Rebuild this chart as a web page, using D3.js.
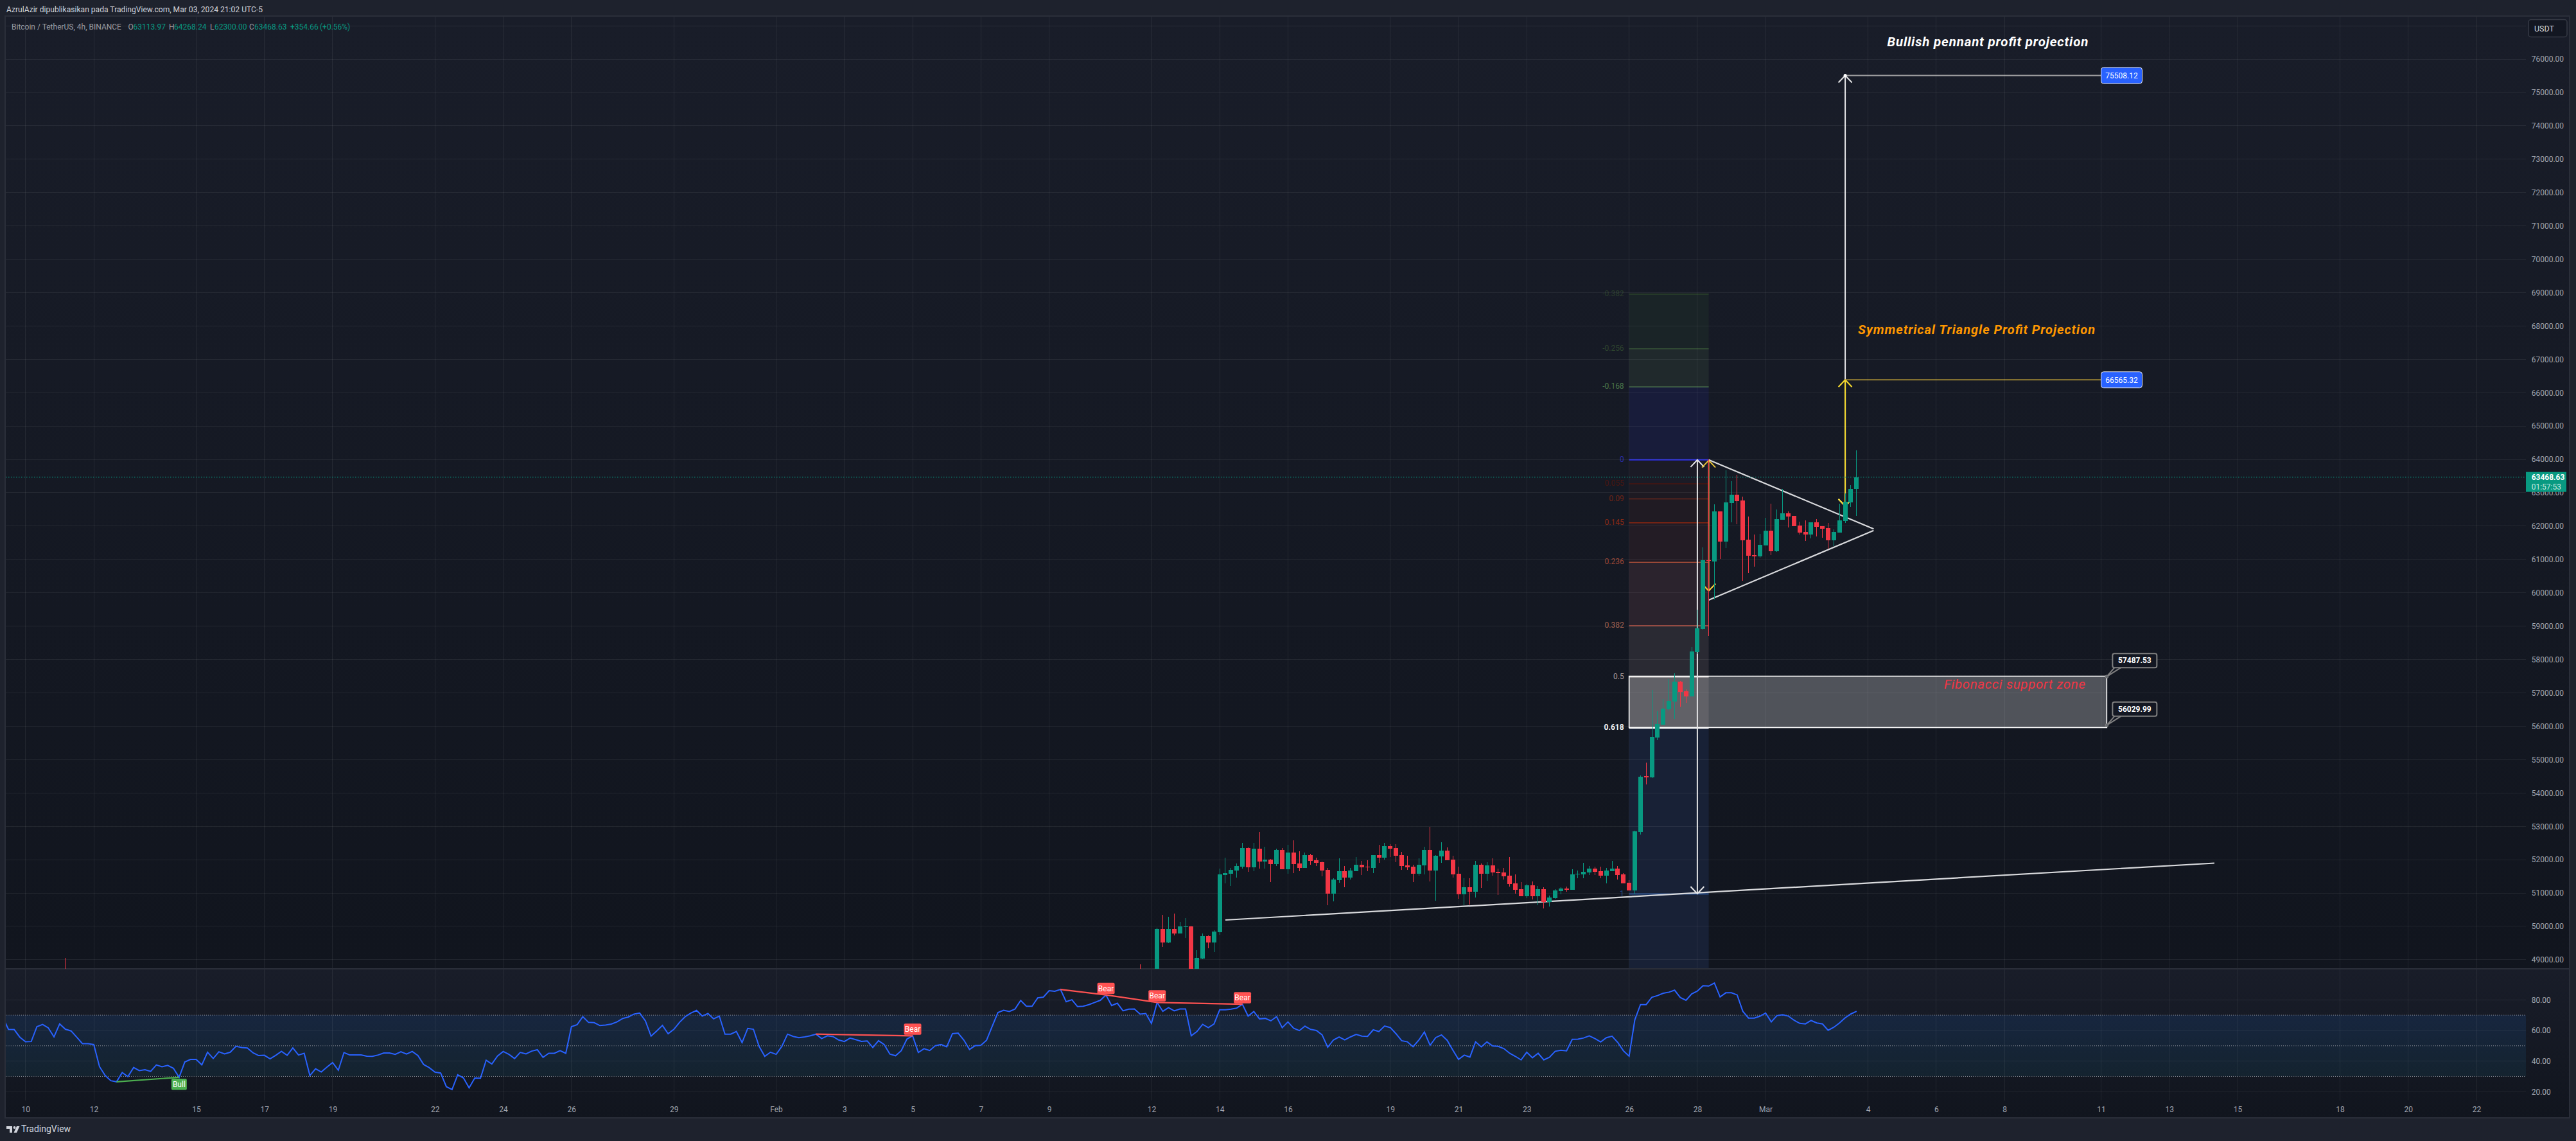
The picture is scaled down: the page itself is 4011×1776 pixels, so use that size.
<!DOCTYPE html>
<html>
<head>
<meta charset="utf-8">
<title>BTCUSDT 4h</title>
<script src="https://cdn.jsdelivr.net/npm/d3@7"></script>
<style>
  html, body { margin: 0; padding: 0; background: #1e222d; }
  svg { display: block; }
  text { font-family: Roboto, sans-serif; }
</style>
</head>
<body>
<div id="chart"></div>
<script>
// 4h candles, first row is Feb 11 16:00. rows are open, high, low, close
const candleStart = "2024-02-11T16:00:00Z";
const candleRows = [
  [48700,48853,48200,48400],[48400,48600,48100,48350],[48350,48650,48000,48250],[48250,49968,48200,49930],
  [49930,50353,49391,49526],[49526,50295,49500,49930],[49930,50391,49737,49795],[49795,50135,49790,50007],
  [49985,50250,49660,50007],[50000,50010,48200,48400],[48400,49295,48350,49064],[49045,49789,49019,49718],
  [49718,49737,49353,49526],[49526,49891,49237,49853],[49833,51737,49757,51564],[51545,52064,51295,51603],
  [51583,51756,51218,51699],[51680,51891,51468,51814],[51795,52506,51737,52353],[52353,52372,51641,51776],
  [51776,52506,51660,52333],[52333,52833,51737,51949],[51949,52391,51737,52006],[52006,52026,51333,51872],
  [51872,52333,51814,52295],[52295,52353,51718,51718],[51718,52449,51583,52218],[52218,52583,51603,51872],
  [51891,52256,51660,51756],[51756,52218,51750,52141],[52141,52180,51853,51968],[51987,52064,51814,51910],
  [51930,51935,51506,51680],[51699,51756,50641,50987],[50987,51449,50756,51410],[51391,52045,51314,51660],
  [51660,51814,51180,51468],[51468,51756,51410,51680],[51660,52083,51655,51853],[51853,51968,51545,51776],
  [51795,51987,51660,51776],[51756,52145,51603,52141],[52141,52449,51910,52064],[52064,52506,52006,52410],
  [52410,52468,52083,52333],[52353,52468,51930,52122],[52141,52237,51699,51814],[51833,52122,51699,51776],
  [51795,51853,51333,51583],[51583,52045,51526,51853],[51833,52391,51564,52295],[52295,52987,51353,51680],
  [51680,52141,50776,52122],[52103,52526,51910,52276],[52276,52372,51980,51987],[52006,52122,51468,51564],
  [51583,51795,50833,50968],[50968,51449,50641,51180],[51180,51449,50660,51045],[51045,51968,50872,51853],
  [51853,51891,51160,51583],[51583,51930,51372,51833],[51833,52045,51526,51622],[51641,51737,50949,51603],
  [51622,51756,51410,51506],[51526,52083,51199,51276],[51295,51564,50987,51103],[51122,51333,50905,50910],
  [50910,51276,50853,51237],[51237,51353,50814,50910],[50910,51218,50641,51122],[51122,51180,50545,50737],
  [50737,50930,50603,50872],[50853,51122,50833,51083],[51065,51180,50968,51141],[51141,51199,51045,51103],
  [51103,51718,51100,51564],[51564,51680,51449,51583],[51564,51910,51449,51641],[51622,51814,51545,51737],
  [51737,51795,51545,51641],[51660,51795,51449,51526],[51526,51756,51295,51680],[51660,51968,51655,51737],
  [51737,51814,51410,51545],[51564,51603,51290,51295],[51314,51391,51080,51083],[51076,52860,50967,52848],
  [52830,54530,52752,54485],[54500,54909,54254,54470],[54470,57085,54445,55679],[55660,56450,55583,56065],
  [56045,56816,56020,56527],[56507,57413,56469,56758],[56739,57586,56212,57336],[57336,57355,56585,57028],
  [57047,57098,56700,56893],[56893,58376,56890,58241],[58222,59493,58164,58934],[58915,61361,58900,60976],
  [60985,64000,58703,60960],[60938,62652,59801,62440],[62440,62445,61015,61535],[61535,63673,61342,62710],
  [62690,63345,62113,62941],[62941,63538,62055,62748],[62767,62883,60360,61573],[61592,62286,60591,61111],
  [61130,61747,60784,61092],[61092,61766,61053,61438],[61420,62247,61415,61862],[61862,62671,61130,61246],
  [61246,62498,61227,62209],[62190,63114,62185,62382],[62382,62440,61958,62286],[62305,62310,61990,61997],
  [62016,62132,61747,61804],[61823,62170,61554,61747],[61747,62120,61631,62113],[62113,62209,61689,61978],
  [61997,62000,61650,61920],[61940,62093,61323,61573],[61573,61901,61400,61824],[61804,62671,61800,62170],
  [62150,62979,62093,62729],[62710,63230,62575,63114],[63113.97,64268.24,62300,63468.63]
];
// lone wick poking into the pane far on the left
const earlyWickTime = "2024-01-11T04:00:00Z";
const earlyWickRow = [48500,49050,47800,47600];

// RSI values, one per 4h candle from Jan 9 08:00
const rsiStart = "2024-01-09T08:00:00Z";
const rsiValues = [
  68.3,60.7,60.6,55.6,52.6,52.8,62.5,63.9,61.7,55.8,64.3,60.8,59.7,55.6,51.4,51.4,50.8,36.4,30.6,27.2,
  26.5,32.5,29.9,35.8,33.8,34.4,33.3,37.5,36.3,37.2,35.3,29.4,39.4,41.1,41.1,37.5,45.8,41.7,46.1,44.7,
  45.8,49.7,48.9,48.6,45.4,43.6,43.8,41.5,43.8,46.4,43.8,48.6,44.0,45.1,30.6,35.0,32.9,36.1,39.0,34.0,
  45.6,44.0,44.0,44.0,43.2,43.1,44.0,45.3,45.3,44.4,46.1,44.6,46.3,43.6,37.8,35.7,32.8,32.2,23.3,21.4,
  31.1,29.0,22.5,28.9,28.8,40.6,38.1,43.3,46.3,44.4,41.7,45.7,44.7,46.5,47.4,42.4,45.1,45.1,46.8,45.1,
  62.5,63.8,69.0,65.3,65.1,63.2,63.6,64.2,65.6,67.8,68.8,70.7,71.4,66.3,56.3,59.7,63.3,57.9,60.7,65.3,
  69.0,71.4,73.1,69.4,71.1,67.6,69.4,57.6,57.6,59.3,52.1,61.3,60.8,49.6,43.1,45.8,44.4,49.6,57.6,56.1,
  55.3,55.8,56.5,57.6,54.7,56.5,56.0,
  53.8,52.8,55.0,54.0,52.9,53.2,48.9,53.3,50.8,44.6,43.5,46.8,54.4,56.5,45.6,48.1,46.9,50.1,50.8,49.3,
  57.9,58.3,53.8,47.6,50.1,50.3,53.6,62.8,71.7,73.2,72.4,74.0,79.6,75.8,75.8,81.3,81.8,86.0,85.6,86.8,
  78.8,80.1,75.6,75.8,76.9,78.3,79.7,83.2,76.3,77.8,72.8,73.9,74.0,70.7,71.1,64.6,78.3,72.5,74.9,72.8,
  74.0,74.0,56.5,59.3,64.0,61.8,64.2,73.5,73.5,73.9,74.6,77.1,69.4,72.4,67.6,67.9,66.3,69.0,61.8,65.6,
  61.5,59.9,62.8,60.7,60.0,57.2,49.0,53.8,55.7,53.8,55.8,57.4,56.3,56.1,60.4,59.3,62.9,61.9,57.9,53.3,
  52.6,49.4,53.6,59.0,50.3,55.4,57.1,53.6,47.2,41.1,43.9,42.6,52.6,49.3,52.5,49.9,49.6,48.1,45.1,43.1,
  40.8,45.8,42.2,45.1,40.8,42.5,46.4,47.1,46.7,54.2,54.3,55.1,56.5,54.7,52.5,55.3,56.3,52.2,46.7,43.2,
  66.9,76.9,76.9,81.7,82.8,84.3,85.0,
  86.3,81.5,79.7,83.9,85.7,89.2,89.0,91.0,81.9,84.6,84.6,83.2,72.5,68.1,68.1,69.3,71.4,65.6,69.7,70.3,
  69.4,66.7,64.7,64.3,66.5,64.9,64.3,60.1,62.1,64.9,68.3,70.8,72.5
];
// divergences as [from, to] index into rsiValues
const bullDivergences = [[20, 31]];
const bearDivergences = [[143, 160], [186, 194], [194, 203], [203, 218]];

const priceTicks = d3.range(49000, 77000, 1000);
const gridPrices = d3.range(49000, 78000, 1000);
const rsiTicks = [20, 40, 60, 80];
const rsiGuides = [30, 50, 70];
const timeTicks = ["2024-01-10","2024-01-12","2024-01-15","2024-01-17","2024-01-19","2024-01-22","2024-01-24","2024-01-26","2024-01-29","2024-02-01","2024-02-03","2024-02-05","2024-02-07","2024-02-09","2024-02-12","2024-02-14","2024-02-16","2024-02-19","2024-02-21","2024-02-23","2024-02-26","2024-02-28","2024-03-01","2024-03-04","2024-03-06","2024-03-08","2024-03-11","2024-03-13","2024-03-15","2024-03-18","2024-03-20","2024-03-22"];
const timeLabels = ["10","12","15","17","19","22","24","26","29","Feb","3","5","7","9","12","14","16","19","21","23","26","28","Mar","4","6","8","11","13","15","18","20","22"];

// fib retracement
const fibHigh = 63985;
const fibLow = 50970;
const fibLevels = [-0.382,-0.256,-0.168,0,0.055,0.09,0.145,0.236,0.382,0.5,0.618,1];
const fibLabels = ["-0.382","-0.256","-0.168","0","0.055","0.09","0.145","0.236","0.382","0.5","0.618","1"];
const fibFrom = "2024-02-26T00:00:00Z";
const fibTo = "2024-02-28T08:00:00Z";
const supportZone = [57500, 55960];
const zoneEnd = "2024-03-11T04:00:00Z";
const zonePrices = [57487.53, 56029.99];

const supportLine = [["2024-02-14T04:00:00Z", 50191], ["2024-03-14T07:42:00Z", 51896]];
const triangleTop = [["2024-02-28T08:00:00Z", 63985], ["2024-03-04T04:00:00Z", 61915]];
const triangleBottom = [["2024-02-28T08:00:00Z", 59783], ["2024-03-04T04:00:00Z", 61869]];

const arrowFlagTime = "2024-02-28T00:00:00Z";
const arrowFlagPrices = [63985, 50980];
const arrowPoleTime = "2024-02-28T08:00:00Z";
const arrowPolePrices = [63970, 60060];
const targetTime = "2024-03-03T08:00:00Z";
const targetEndTime = "2024-03-11T00:00:00Z";
const targetBreakout = 62600;
const targetBull = 75508.12;
const targetSym = 66565.32;
const targetSymDrawn = 66385;

const lastPrice = 63468.63;
const countdown = "01:57:53";

// colours
const UP = "#089981";
const DOWN = "#f23645";
const fibLineColors = ["#2f4a2c","#3a5a3a","#4f7a4f","#2b2ee0","#4a1610","#7a2a1a","#8a2510","#a04a38","#b8584a","#d8d2d2","#ffffff","#2a5fb0"];
const fibTextColors = ["#2a3d2c","#2e452f","#4c7a4c","#2a2ea8","#4a1610","#6d2416","#8a2a15","#9a4635","#a0604f","#a89c9c","#f0f0f0","#224a8c"];
const fibBandColors = ["#1a2427","#20292c","#181c3a","#1b1b26","#1e1a22","#201b23","#231c25","#2b232d","#2a2a33","#2a2a33","#182136"];

const W = 4011, H = 1776;
const paneLeft = 9, paneRight = 3933, frameRight = 4000;
const mainTop = 26, mainBottom = 1508, rsiBottom = 1713, frameBottom = 1740;

const x = d3.scaleUtc()
  .domain(["2024-01-10","2024-03-08","2024-03-11","2024-03-22"].map(d => new Date(d)))
  .range([39.8, 3121, 3271.5, 3856]);
const y = d3.scaleLinear().domain([49000, 76000]).range([1493.84, 92]);
const yRsi = d3.scaleLinear().domain([20, 80]).range([1699.3, 1556.3]);
const t = s => new Date(s);

const svg = d3.select("#chart").append("svg").attr("width", W).attr("height", H);
const defs = svg.append("defs");

function vGradient(id, top, bottom) {
  const g = defs.append("linearGradient").attr("id", id)
    .attr("x1", 0).attr("y1", 0).attr("x2", 0).attr("y2", 1);
  g.append("stop").attr("offset", "0%").attr("stop-color", top);
  g.append("stop").attr("offset", "100%").attr("stop-color", bottom);
}
vGradient("mainBg", "#191d29", "#11151e");
vGradient("rsiBg", "#191d29", "#11151e");
vGradient("rsiBand", "#17263f", "#14232f");

defs.append("clipPath").attr("id", "mainClip").append("rect")
  .attr("x", paneLeft).attr("y", mainTop).attr("width", paneRight - paneLeft).attr("height", mainBottom - mainTop);
defs.append("clipPath").attr("id", "rsiClip").append("rect")
  .attr("x", paneLeft).attr("y", mainBottom).attr("width", paneRight - paneLeft).attr("height", rsiBottom - mainBottom);

// page + panes
svg.append("rect").attr("width", W).attr("height", H).attr("fill", "#1e222d");
svg.append("rect").attr("x", paneLeft).attr("y", mainTop).attr("width", frameRight - paneLeft).attr("height", mainBottom - mainTop).attr("fill", "url(#mainBg)");
svg.append("rect").attr("x", paneLeft).attr("y", mainBottom).attr("width", frameRight - paneLeft).attr("height", frameBottom - mainBottom).attr("fill", "url(#rsiBg)");
svg.append("rect").attr("x", paneLeft).attr("width", paneRight - paneLeft)
  .attr("y", yRsi(70)).attr("height", yRsi(30) - yRsi(70))
  .attr("fill", "url(#rsiBand)");

// fib bands sit under the grid
const mainDraw = svg.append("g").attr("clip-path", "url(#mainClip)");
const fibPrice = l => fibHigh - l * (fibHigh - fibLow);
const fibX0 = x(t(fibFrom)), fibX1 = x(t(fibTo));
mainDraw.selectAll("rect.band").data(fibBandColors).enter().append("rect")
  .attr("class", "band")
  .attr("x", fibX0).attr("width", fibX1 - fibX0)
  .attr("y", (d, i) => y(fibPrice(fibLevels[i])))
  .attr("height", (d, i) => {
    // last band runs on below the pane
    const next = i === fibBandColors.length - 1 ? 48000 : fibPrice(fibLevels[i + 1]);
    return y(next) - y(fibPrice(fibLevels[i]));
  })
  .attr("fill", d => d);

// support zone box
const zoneX1 = x(t(zoneEnd));
mainDraw.append("rect").attr("class", "zone")
  .attr("x", fibX0).attr("y", y(supportZone[0]))
  .attr("width", zoneX1 - fibX0).attr("height", y(supportZone[1]) - y(supportZone[0]))
  .attr("fill", "#ffffff").attr("fill-opacity", 0.26);

// grid
const gridColor = "rgba(255,255,255,0.065)";
const grid = svg.append("g").attr("shape-rendering", "crispEdges").attr("stroke", gridColor);
grid.selectAll("line.h").data(gridPrices).enter().append("line").attr("class", "h")
  .attr("x1", paneLeft).attr("x2", paneRight).attr("y1", d => y(d)).attr("y2", d => y(d));
grid.selectAll("line.r").data(rsiTicks).enter().append("line").attr("class", "r")
  .attr("x1", paneLeft).attr("x2", paneRight).attr("y1", d => yRsi(d)).attr("y2", d => yRsi(d));
grid.selectAll("line.v").data(timeTicks).enter().append("line").attr("class", "v")
  .attr("x1", d => x(t(d))).attr("x2", d => x(t(d))).attr("y1", mainTop).attr("y2", rsiBottom);

// pane separator and frame
svg.append("line").attr("x1", paneLeft).attr("x2", frameRight).attr("y1", mainBottom).attr("y2", mainBottom)
  .attr("stroke", "#2a2e39").attr("stroke-width", 2);
svg.append("rect").attr("x", paneLeft - 1).attr("y", mainTop - 1).attr("width", frameRight - paneLeft + 2).attr("height", frameBottom - mainTop + 1)
  .attr("fill", "none").attr("stroke", "#2a2e39").attr("stroke-width", 2);

// fib lines and labels
mainDraw.selectAll("line.fib").data(fibLevels).enter().append("line")
  .attr("class", "fib")
  .attr("x1", fibX0).attr("x2", fibX1)
  .attr("y1", d => y(fibPrice(d))).attr("y2", d => y(fibPrice(d)))
  .attr("stroke", (d, i) => fibLineColors[i])
  .attr("stroke-width", d => (d === 0 ? 2 : 1.4));
mainDraw.selectAll("text.fib").data(fibLevels).enter().append("text")
  .attr("class", "fib")
  .attr("x", fibX0 - 8)
  .attr("y", d => y(fibPrice(d)) + 3)
  .attr("text-anchor", "end")
  .attr("font-size", 12)
  .attr("font-weight", d => (d === 0.618 ? 700 : 400))
  .attr("fill", (d, i) => fibTextColors[i])
  .text((d, i) => fibLabels[i]);

// zone border
mainDraw.append("rect")
  .attr("x", fibX0).attr("y", y(supportZone[0]))
  .attr("width", zoneX1 - fibX0).attr("height", y(supportZone[1]) - y(supportZone[0]))
  .attr("fill", "none").attr("stroke", "#ffffff").attr("stroke-width", 1.6);

// drawings go under the candles
const lineGen = d3.line().x(d => x(t(d[0]))).y(d => y(d[1]));
[supportLine, triangleTop, triangleBottom].forEach(pts => {
  mainDraw.append("path").attr("d", lineGen(pts))
    .attr("fill", "none").attr("stroke", "#d9dadd").attr("stroke-width", 2.2);
});

function arrowHead(px, py, dir, color) {
  mainDraw.append("path")
    .attr("d", d3.line()([[px - 10.5, py + dir * 11], [px, py], [px + 10.5, py + dir * 11]]))
    .attr("fill", "none").attr("stroke", color).attr("stroke-width", 2);
}
function vArrow(time, p0, p1, color, twoHeads) {
  const px = x(t(time));
  mainDraw.append("line").attr("x1", px).attr("x2", px).attr("y1", y(p0)).attr("y2", y(p1))
    .attr("stroke", color).attr("stroke-width", 2);
  arrowHead(px, y(p1), -1, color);
  if (twoHeads) arrowHead(px, y(p0), 1, color);
}
vArrow(arrowFlagTime, arrowFlagPrices[0], arrowFlagPrices[1], "#e4e4e6", true);
vArrow(arrowPoleTime, arrowPolePrices[0], arrowPolePrices[1], "#f2b84a", false);
arrowHead(x(t(arrowPoleTime)), y(arrowPolePrices[0]), 1, "#e8c63a");
arrowHead(x(t(arrowPoleTime)), y(arrowPolePrices[1]), -1, "#e8c63a");

// projections
const targetX = x(t(targetTime)), targetEndX = x(t(targetEndTime));
mainDraw.append("line").attr("x1", targetX).attr("x2", targetX).attr("y1", y(targetBull)).attr("y2", y(targetBreakout))
  .attr("stroke", "#e4e4e6").attr("stroke-width", 2);
arrowHead(targetX, y(targetBull), 1, "#e4e4e6");
arrowHead(targetX, y(targetBreakout), -1, "#e4e4e6");
mainDraw.append("line").attr("x1", targetX).attr("x2", targetEndX).attr("y1", y(targetBull)).attr("y2", y(targetBull))
  .attr("stroke", "#9a9a9c").attr("stroke-width", 2);
mainDraw.append("circle").attr("cx", targetX).attr("cy", y(targetBull)).attr("r", 2.5).attr("fill", "#ffffff");
mainDraw.append("line").attr("x1", targetX).attr("x2", targetX).attr("y1", y(targetSymDrawn)).attr("y2", y(targetBreakout))
  .attr("stroke", "#f5d92e").attr("stroke-width", 2);
arrowHead(targetX, y(targetSymDrawn), 1, "#f5d92e");
arrowHead(targetX, y(targetBreakout), -1, "#f5d92e");
mainDraw.append("line").attr("x1", targetX).attr("x2", targetEndX).attr("y1", y(targetSymDrawn)).attr("y2", y(targetSymDrawn))
  .attr("stroke", "#c9a93a").attr("stroke-width", 1.5);

// price line
svg.append("line").attr("x1", paneLeft).attr("x2", paneRight).attr("y1", y(lastPrice)).attr("y2", y(lastPrice))
  .attr("stroke", UP).attr("stroke-width", 1.2).attr("stroke-dasharray", "1.5 2.5");

// candles
const candles = candleRows.map((r, i) => ({
  time: d3.utcHour.offset(t(candleStart), i * 4), open: r[0], high: r[1], low: r[2], close: r[3]
}));
candles.push({ time: t(earlyWickTime), open: earlyWickRow[0], high: earlyWickRow[1], low: earlyWickRow[2], close: earlyWickRow[3] });
const candleG = svg.append("g").attr("clip-path", "url(#mainClip)").attr("shape-rendering", "crispEdges");
const candleColor = d => (d.close >= d.open ? UP : DOWN);
candleG.selectAll("line").data(candles).enter().append("line")
  .attr("x1", d => x(d.time)).attr("x2", d => x(d.time))
  .attr("y1", d => y(d.high)).attr("y2", d => y(d.low))
  .attr("stroke", candleColor);
candleG.selectAll("rect").data(candles).enter().append("rect")
  .attr("x", d => x(d.time) - 3.5).attr("width", 7)
  .attr("y", d => y(Math.max(d.open, d.close)))
  .attr("height", d => Math.max(1, Math.abs(y(d.open) - y(d.close))))
  .attr("fill", candleColor);

// RSI pane
const rsiDraw = svg.append("g").attr("clip-path", "url(#rsiClip)");
rsiDraw.selectAll("line.guide").data(rsiGuides).enter().append("line").attr("class", "guide")
  .attr("x1", paneLeft).attr("x2", paneRight).attr("y1", d => yRsi(d)).attr("y2", d => yRsi(d))
  .attr("stroke", "#8f929b").attr("stroke-dasharray", "1 2");
const rsiTime = i => d3.utcHour.offset(t(rsiStart), i * 4);
rsiDraw.append("path")
  .attr("d", d3.line().x((d, i) => x(rsiTime(i))).y(d => yRsi(d))(rsiValues))
  .attr("fill", "none").attr("stroke", "#2962ff").attr("stroke-width", 2);

function divergence(pairs, color, label, above) {
  pairs.forEach(p => {
    rsiDraw.append("line")
      .attr("x1", x(rsiTime(p[0]))).attr("y1", yRsi(rsiValues[p[0]]))
      .attr("x2", x(rsiTime(p[1]))).attr("y2", yRsi(rsiValues[p[1]]))
      .attr("stroke", color).attr("stroke-width", 2.2);
  });
  pairs.forEach(p => {
    const px = x(rsiTime(p[1])), py = yRsi(rsiValues[p[1]]);
    const top = above ? py - 19 : py + 2;
    const w = label === "Bull" ? 24 : 27;
    rsiDraw.append("rect").attr("x", px - w / 2).attr("y", top).attr("width", w).attr("height", 17.5)
      .attr("rx", 2).attr("fill", color);
    rsiDraw.append("text").attr("x", px).attr("y", top + 13).attr("text-anchor", "middle")
      .attr("font-size", 12).attr("fill", "#ffffff").text(label);
  });
}
divergence(bullDivergences, "#4caf50", "Bull", false);
divergence(bearDivergences, "#ff5252", "Bear", true);

// axes
const priceAxis = svg.append("g").attr("transform", `translate(${paneRight},0)`)
  .call(d3.axisRight(y).tickValues(priceTicks).tickSize(0).tickPadding(8.7).tickFormat(d3.format(".2f")));
const rsiAxis = svg.append("g").attr("transform", `translate(${paneRight},0)`)
  .call(d3.axisRight(yRsi).tickValues(rsiTicks).tickSize(0).tickPadding(8.7).tickFormat(d3.format(".2f")));
const timeAxis = svg.append("g").attr("transform", `translate(0,${rsiBottom})`)
  .call(d3.axisBottom(x).tickValues(timeTicks.map(t)).tickSize(0).tickPadding(9)
    .tickFormat((d, i) => timeLabels[i]));
[priceAxis, rsiAxis, timeAxis].forEach(a => {
  a.select(".domain").remove();
  a.attr("font-family", "Roboto, sans-serif").attr("font-size", 12);
  a.selectAll("text").attr("fill", "#a3a6af");
});

// USDT box
svg.append("rect").attr("x", 3937).attr("y", 30.5).attr("width", 60).attr("height", 27).attr("rx", 4)
  .attr("fill", "#131722").attr("stroke", "#363a45").attr("stroke-width", 1.5);
svg.append("text").attr("x", 3946).attr("y", 49).attr("font-size", 12.5).attr("fill", "#d1d4dc").text("USDT");

// last price tag
svg.append("rect").attr("x", paneRight).attr("y", y(lastPrice) - 8).attr("width", 63).attr("height", 31).attr("fill", UP);
svg.append("text").attr("x", 3941.7).attr("y", y(lastPrice) + 4.5).attr("font-size", 12).attr("font-weight", 700).attr("fill", "#ffffff").text(d3.format(".2f")(lastPrice));
svg.append("text").attr("x", 3941.7).attr("y", y(lastPrice) + 19).attr("font-size", 12).attr("fill", "#c4e9e1").text(countdown);

// blue target tags
function blueTag(price, drawnPrice) {
  const px = targetEndX, py = y(drawnPrice);
  svg.append("rect").attr("x", px).attr("y", py - 12.5).attr("width", 64).attr("height", 25).attr("rx", 4)
    .attr("fill", "#2962ff").attr("stroke", "#e8e8ee").attr("stroke-width", 1);
  svg.append("text").attr("x", px + 32).attr("y", py + 4.5).attr("text-anchor", "middle")
    .attr("font-size", 12).attr("fill", "#ffffff").text(d3.format(".2f")(price));
}
blueTag(targetBull, targetBull);
blueTag(targetSym, targetSymDrawn);

// callouts on the support zone
zonePrices.forEach(p => {
  const ax = zoneX1, ay = y(p);
  const bx = ax + 9, by = ay - 36;
  svg.append("path")
    .attr("d", `M${bx + 3},${by + 22} L${ax},${ay} L${bx + 13},${by + 22}`)
    .attr("fill", "#131722").attr("stroke", "#808080").attr("stroke-width", 2);
  svg.append("rect").attr("x", bx).attr("y", by).attr("width", 69).attr("height", 22).attr("rx", 3)
    .attr("fill", "#131722").attr("stroke", "#808080").attr("stroke-width", 2);
  svg.append("text").attr("x", bx + 34.5).attr("y", by + 15).attr("text-anchor", "middle")
    .attr("font-size", 12).attr("font-weight", 700).attr("fill", "#ffffff").text(d3.format(".2f")(p));
  svg.append("circle").attr("cx", ax).attr("cy", ay).attr("r", 2.4).attr("fill", "#666a70").attr("stroke", "#808080");
});

// chart notes
function note(time, price, str, color, size, weight, width) {
  svg.append("text").attr("x", x(t(time))).attr("y", y(price))
    .attr("font-family", "'Open Sans', sans-serif")
    .attr("font-style", "italic").attr("font-weight", weight)
    .attr("font-size", size).attr("fill", color)
    .attr("textLength", width).attr("lengthAdjust", "spacing")
    .text(str);
}
note("2024-03-04T13:30:00Z", 76385, "Bullish pennant profit projection", "#ffffff", 20.5, 700, 313);
note("2024-03-03T17:00:00Z", 67757, "Symmetrical Triangle Profit Projection", "#ff9800", 20, 700, 369);
note("2024-03-06T05:30:00Z", 57125, "Fibonacci support zone", "#f23645", 20.5, 400, 220);

// header
svg.append("text").attr("x", 10).attr("y", 19).attr("font-size", 12.1).attr("fill", "#d1d4dc")
  .text("AzrulAzir dipublikasikan pada TradingView.com, Mar 03, 2024 21:02 UTC-5");

// legend
const legendY = 45.5;
svg.append("text").attr("x", 18).attr("y", legendY).attr("font-size", 12).attr("fill", "#9a9da6")
  .text("Bitcoin / TetherUS, 4h, BINANCE");
const legendLetters = [["O", 199.5], ["H", 263], ["L", 327], ["C", 388]];
const legendValues = [["63113.97", 207.6], ["64268.24", 271], ["62300.00", 334], ["63468.63", 396], ["+354.66", 452], ["(+0.56%)", 498]];
legendLetters.forEach(l => {
  svg.append("text").attr("x", l[1]).attr("y", legendY).attr("font-size", 12).attr("fill", "#9a9da6").text(l[0]);
});
legendValues.forEach(l => {
  svg.append("text").attr("x", l[1]).attr("y", legendY).attr("font-size", 12).attr("fill", UP).text(l[0]);
});

// footer logo
const logo = svg.append("g").attr("fill", "#d1d4dc");
logo.append("path").attr("d", "M10 1753 h9 v10 h-4 v-6 h-5 z");
logo.append("circle").attr("cx", 22.5).attr("cy", 1755).attr("r", 2);
logo.append("path").attr("d", "M26 1753 h4.5 l-4.5 10 h-4.5 z");
svg.append("text").attr("x", 33).attr("y", 1762).attr("font-size", 14).attr("fill", "#d1d4dc").text("TradingView");
</script>
</body>
</html>
